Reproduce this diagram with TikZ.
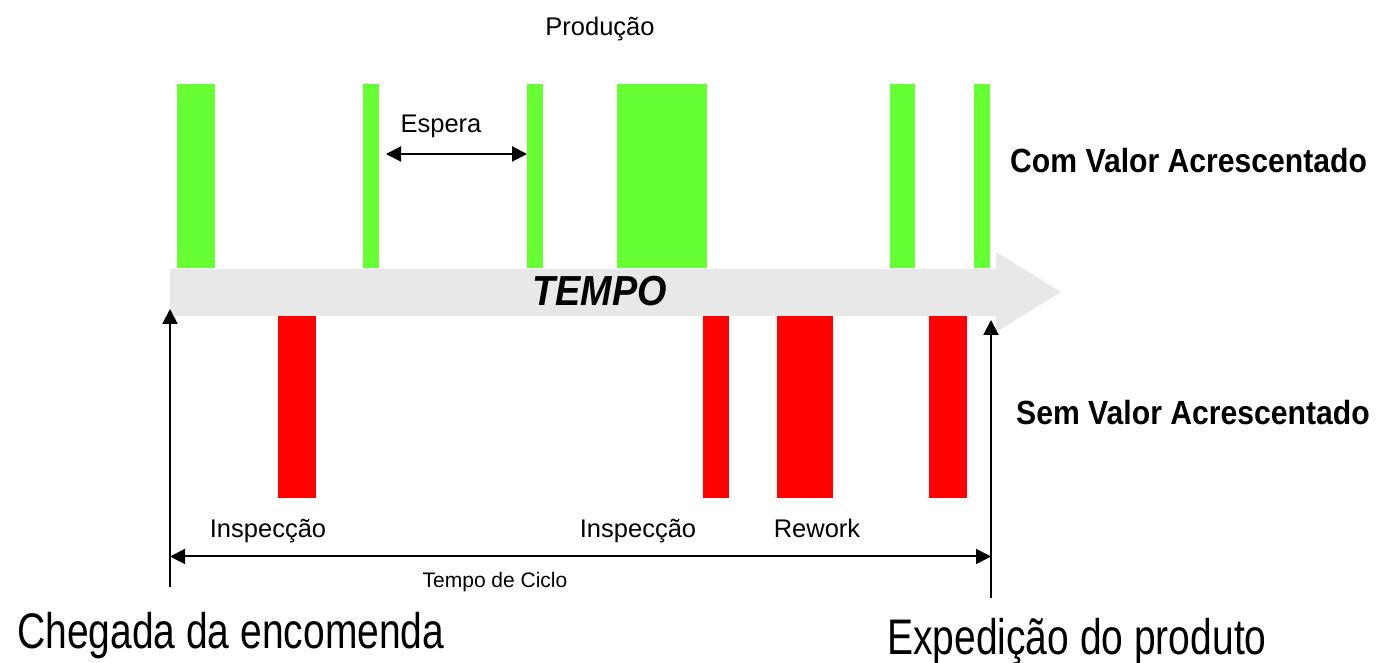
\documentclass[tikz,border=0pt]{standalone}
\usepackage{fontspec}
\setmainfont{Liberation Sans}
\newfontfamily\narrowsans{Liberation Sans}[FakeStretch=0.78]
\newfontfamily\headsans{Liberation Sans}[FakeStretch=0.9]
\usetikzlibrary{arrows.meta}
\definecolor{vagreen}{RGB}{102,255,51}
\definecolor{nvared}{RGB}{255,0,0}
\definecolor{timegray}{RGB}{232,232,232}
\tikzset{
    VA/.style ={fill=vagreen},
    NVA/.style ={fill=nvared},
    ARR/.style ={line width=2pt, -{Triangle[length=15pt,width=15pt]}},
    DARR/.style ={line width=2pt, {Triangle[length=15pt,width=15pt]}-{Triangle[length=15pt,width=15pt]}},
    LAB/.style ={font=\fontsize{25.5}{30}\selectfont, inner sep=0pt, anchor=base},
    BIG/.style ={font=\narrowsans\fontsize{50}{60}\selectfont, inner sep=0pt, anchor=base west},
    HEAD/.style ={font=\headsans\bfseries\fontsize{33.5}{40}\selectfont, inner sep=0pt, anchor=base west}
}

\begin{document}
\begin{tikzpicture}[x=1pt,y=1pt]
        \useasboundingbox (0,0) rectangle (1377,663);
        % com valor acrescentado
        \fill[VA] (177,395) rectangle (215,579);
        \fill[VA] (363,395) rectangle (379,579);
        \fill[VA] (527,395) rectangle (543,579);
        \fill[VA] (617,395) rectangle (707,579);
        \fill[VA] (890,395) rectangle (915,579);
        \fill[VA] (974,395) rectangle (990,579);
        % sem valor acrescentado
        \fill[NVA] (278,165) rectangle (316,347);
        \fill[NVA] (703,165) rectangle (729,347);
        \fill[NVA] (777,165) rectangle (833,347);
        \fill[NVA] (929,165) rectangle (967,347);
        % seta do tempo
        \fill[timegray] (170,394) -- (996,394) -- (996,411) -- (1061,371)
            -- (996,331) -- (996,347) -- (170,347) -- cycle;
        \node[font=\headsans\bfseries\itshape\fontsize{42}{50}\selectfont, inner sep=0pt, anchor=base] (tempo) at (599.5,357) {TEMPO};
        % marcos
        \coordinate (chegadaBase) at (170,76);
        \coordinate (chegadaTop) at (170,354);
        \coordinate (expedBase) at (991,65);
        \coordinate (expedTop) at (991,343);
        \draw[ARR] (chegadaBase) -- (chegadaTop);
        \draw[ARR] (expedBase) -- (expedTop);
        \coordinate (cicloL) at (170,106.5);
        \coordinate (cicloR) at (991,106.5);
        \draw[DARR] (cicloL) -- (cicloR);
        \coordinate (esperaL) at (386,509);
        \coordinate (esperaR) at (527,509);
        \draw[DARR] (esperaL) -- (esperaR);
        % textos
        \node[LAB] (producao) at (600,627) {Produção};
        \node[LAB] (espera) at (441,530) {Espera};
        \node[HEAD] (comva) at (1010,490) {Com Valor Acrescentado};
        \node[HEAD] (semva) at (1016,238) {Sem Valor Acrescentado};
        \node[LAB] (insp1) at (268,125) {Inspecção};
        \node[LAB] (insp2) at (638,125) {Inspecção};
        \node[LAB] (rework) at (817,125) {Rework};
        \node[LAB, font=\fontsize{21}{25}\selectfont] (ciclo) at (495,75) {Tempo de Ciclo};
        \node[BIG] (chegada) at (17,14) {Chegada da encomenda};
        \node[BIG] (exped) at (887,8) {Expedição do produto};
    \end{tikzpicture}
\end{document}
